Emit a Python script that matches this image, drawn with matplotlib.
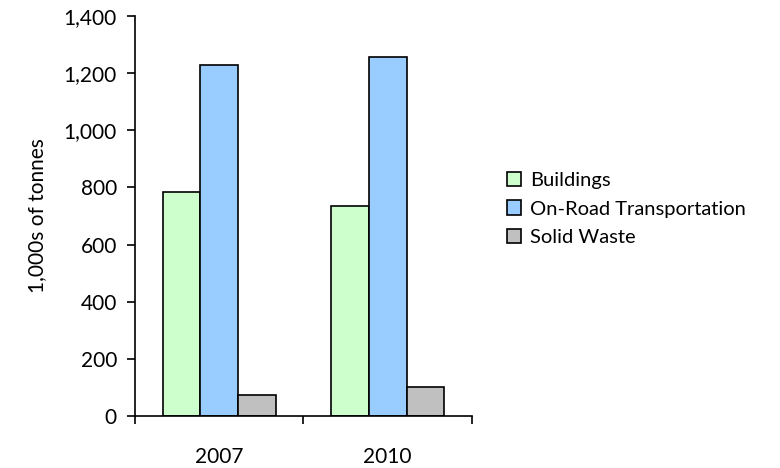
import numpy as np
from matplotlib import pyplot as plt
from matplotlib.ticker import FuncFormatter

years = ['2007', '2010']
series = ['Buildings', 'On-Road Transportation', 'Solid Waste']
buildings = [784, 735]
transport = [1230, 1256]
waste = [75, 103]
colors = ['#CCFFCC', '#99CCFF', '#C0C0C0']

plt.rcParams['font.family'] = ['Lato', 'DejaVu Sans']

fig = plt.figure(figsize=(7.8, 4.68), dpi=100)
ax = fig.add_axes([0.1731, 0.1111, 0.4320, 0.8547])

x = np.arange(len(years))
w = 0.2235
for i, (vals, name) in enumerate(zip([buildings, transport, waste], series)):
    ax.bar(x + (i - 1) * w, vals, w, color=colors[i], edgecolor='black',
           linewidth=1.2, label=name, zorder=2)

ax.set_xlim(-0.5, 1.5)
ax.set_ylim(0, 1400)
ax.set_yticks(range(0, 1401, 200))
ax.yaxis.set_major_formatter(FuncFormatter(lambda v, p: f'{int(v):,}'))
ax.set_xticks([-0.5, 0.5, 1.5])
ax.set_xticklabels([])
ax.set_xticks(x, minor=True)
ax.set_xticklabels(years, minor=True)
ax.tick_params(axis='x', which='minor', length=0, pad=22, labelsize=15)
ax.tick_params(axis='x', which='major', length=6, width=1.2, direction='out')
ax.tick_params(axis='y', length=6, width=1.2, direction='out', labelsize=15, pad=7)
for s in ['top', 'right']:
    ax.spines[s].set_visible(False)
for s in ['left', 'bottom']:
    ax.spines[s].set_linewidth(1.2)

ax.set_ylabel('1,000s of tonnes', fontsize=15, labelpad=12)

ax.legend(loc='center left', bbox_to_anchor=(1.05, 0.5175), frameon=False,
          fontsize=14.5, handlelength=0.7, handleheight=0.7, handletextpad=0.45,
          labelspacing=0.55)

plt.savefig('out.png', dpi=100)
